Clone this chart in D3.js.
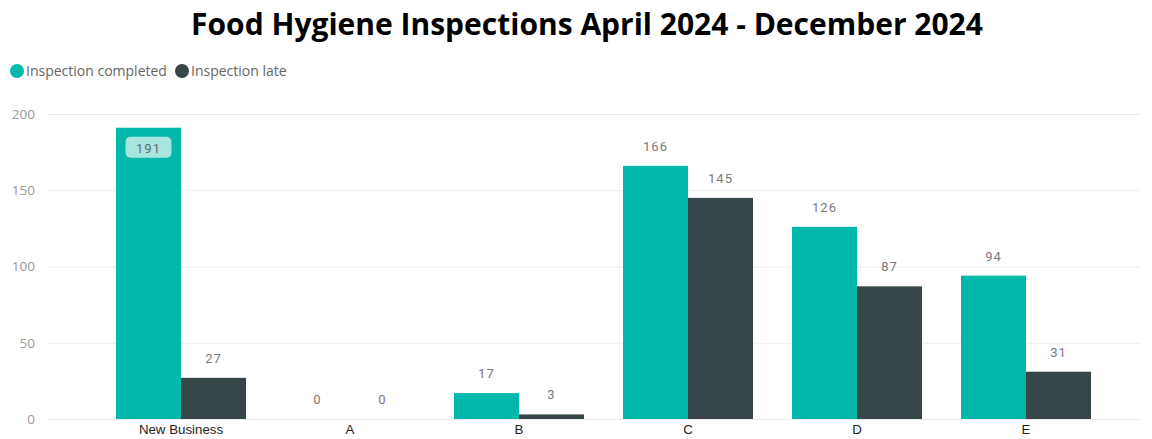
<!DOCTYPE html>
<html>
<head>
<meta charset="utf-8">
<script src="https://cdn.jsdelivr.net/npm/d3@7"></script>
<style>
  html, body { margin: 0; padding: 0; background: #fff; }
  svg { display: block; }
</style>
</head>
<body>
<svg id="chart" width="1152" height="439"></svg>
<script>
// Inspection categories and counts
const categories = ["New Business", "A", "B", "C", "D", "E"];
const seriesNames = ["Inspection completed", "Inspection late"];
const completed = [191, 0, 17, 166, 126, 94];
const late = [27, 0, 3, 145, 87, 31];
const yTicks = [0, 50, 100, 150, 200];
const title = "Food Hygiene Inspections April 2024 - December 2024";

const colors = ["#01B8AA", "#374649"];
const svg = d3.select("#chart");

// Title
svg.append("text")
  .attr("x", 587).attr("y", 35)
  .attr("text-anchor", "middle")
  .attr("font-family", "'Open Sans', sans-serif")
  .attr("font-weight", 700)
  .attr("font-size", 30)
  .attr("fill", "#000")
  .text(title);

// Scales
const x = d3.scaleBand().domain(categories).range([96.5, 1110.5])
  .paddingInner(0.2308).paddingOuter(0.1154);
const xs = d3.scaleBand().domain(seriesNames).range([0, x.bandwidth()]);
const y = d3.scaleLinear().domain([0, 200]).range([419, 114]);

// Gridlines + y labels
const yAxis = d3.axisLeft(y).tickValues(yTicks).tickSize(-(1140 - 47)).tickPadding(12);
const gy = svg.append("g").attr("transform", "translate(47,0)").call(yAxis);
gy.select(".domain").remove();
gy.selectAll(".tick line").attr("stroke", "#ebebeb").attr("stroke-width", 1);
gy.selectAll(".tick text")
  .attr("font-family", "'Open Sans', sans-serif")
  .attr("font-size", 13.5)
  .attr("fill", "#999");

// Bars
const data = categories.map((c, i) => ({ cat: c, vals: [completed[i], late[i]] }));
const groups = svg.append("g").selectAll("g").data(data).join("g")
  .attr("transform", d => `translate(${x(d.cat)},0)`);

groups.selectAll("rect").data(d => d.vals.map((v, j) => ({ v, j })))
  .join("rect")
  .attr("x", d => xs(seriesNames[d.j]))
  .attr("width", xs.bandwidth())
  .attr("y", d => y(d.v))
  .attr("height", d => y(0) - y(d.v))
  .attr("fill", d => colors[d.j]);

// Value labels
groups.each(function(d) {
  const g = d3.select(this);
  d.vals.forEach((v, j) => {
    const cx = xs(seriesNames[j]) + xs.bandwidth() / 2;
    const inside = y(v) - 25 < y(200);
    const cy = inside ? y(v) + 20 : y(v) - 20;
    if (inside) {
      g.append("rect")
        .attr("x", cx - 23).attr("y", cy - 11)
        .attr("width", 46).attr("height", 21)
        .attr("rx", 5)
        .attr("fill", "#a9e5df");
    }
    g.append("text")
      .attr("x", cx).attr("y", cy + 5)
      .attr("text-anchor", "middle")
      .attr("font-family", "Roboto, sans-serif")
      .attr("font-size", 13)
      .attr("letter-spacing", 1)
      .attr("fill", inside ? "#5f6b6d" : "#7a7a7a")
      .text(v);
  });
});

// X axis labels
const xAxis = d3.axisBottom(x).tickSize(0).tickPadding(6);
const gx = svg.append("g").attr("transform", `translate(0,${y(0)})`).call(xAxis);
gx.select(".domain").remove();
gx.selectAll(".tick text")
  .attr("font-family", "'Liberation Sans', Arial, sans-serif")
  .attr("font-size", 13.3)
  .attr("fill", "#222");

// Legend
const legend = svg.append("g");
const legendX = [17, 182];
seriesNames.forEach((name, i) => {
  legend.append("circle").attr("cx", legendX[i]).attr("cy", 71).attr("r", 7).attr("fill", colors[i]);
  legend.append("text")
    .attr("x", legendX[i] + 9).attr("y", 76)
    .attr("font-family", "'Open Sans', sans-serif")
    .attr("font-size", 14)
    .attr("fill", "#666")
    .text(name);
});
</script>
</body>
</html>
